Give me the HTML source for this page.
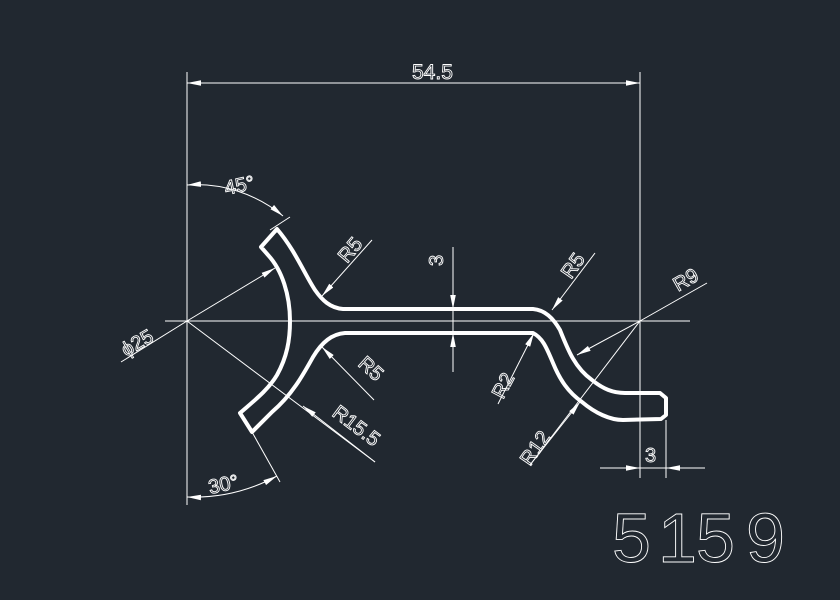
<!DOCTYPE html>
<html><head><meta charset="utf-8"><style>
html,body{margin:0;padding:0;background:#212830;}
svg{display:block}
text{font-family:"Liberation Sans",sans-serif;fill:none;stroke:#fff;stroke-width:0.9}
</style></head><body>
<svg width="840" height="600" viewBox="0 0 840 600" xmlns="http://www.w3.org/2000/svg">
<rect width="840" height="600" fill="#212830"/>
<defs>
<marker id="a" viewBox="0 0 10 4" refX="10" refY="2" markerWidth="14" markerHeight="5.6" markerUnits="userSpaceOnUse" orient="auto-start-reverse"><path d="M0,0 L10,2 L0,4 z" fill="#fff"/></marker>
</defs>
<g stroke="#fff" stroke-width="1" fill="none">
<!-- centerlines / extension -->
<line x1="187" y1="72" x2="187" y2="505"/>
<line x1="640" y1="72" x2="640" y2="478"/>
<line x1="165" y1="321" x2="690" y2="321"/>
<line x1="187" y1="83" x2="640" y2="83" marker-start="url(#a)" marker-end="url(#a)"/>
<!-- 45 deg -->
<path d="M187,185 A136,136 0 0 1 283,216" marker-start="url(#a)" marker-end="url(#a)"/>
<line x1="270" y1="230" x2="290" y2="217"/>
<!-- 30 deg -->
<path d="M187,497 A176,176 0 0 0 277,476" marker-start="url(#a)" marker-end="url(#a)"/>
<line x1="252" y1="432" x2="280" y2="482"/>
<!-- phi25 -->
<line x1="121" y1="362" x2="187" y2="321"/>
<line x1="187" y1="321" x2="275" y2="268" marker-end="url(#a)"/>
<!-- R15.5 -->
<line x1="187" y1="321" x2="375" y2="462"/>
<line x1="375" y1="462" x2="303" y2="406" marker-end="url(#a)"/>
<!-- R5 top -->
<line x1="372" y1="240" x2="322" y2="296" marker-end="url(#a)"/>
<!-- R5 bottom -->
<line x1="374" y1="400" x2="322" y2="347" marker-end="url(#a)"/>
<!-- 3 vertical -->
<line x1="453" y1="247" x2="453" y2="372"/>
<line x1="453" y1="285" x2="453" y2="309" marker-end="url(#a)"/>
<line x1="453" y1="357" x2="453" y2="333" marker-end="url(#a)"/>
<!-- R5 right -->
<line x1="595" y1="253" x2="552" y2="310" marker-end="url(#a)"/>
<!-- R9 -->
<line x1="707" y1="283" x2="640" y2="321"/>
<line x1="640" y1="321" x2="577" y2="355" marker-end="url(#a)"/>
<!-- R2 -->
<line x1="498" y1="404" x2="534" y2="333" marker-end="url(#a)"/>
<!-- R12 -->
<line x1="530" y1="465" x2="640" y2="321"/>
<line x1="530" y1="465" x2="580" y2="402" marker-end="url(#a)"/>
<!-- 3 horizontal -->
<line x1="666" y1="420" x2="666" y2="478"/>
<line x1="600" y1="468" x2="705" y2="468"/>
<line x1="615" y1="468" x2="640" y2="468" marker-end="url(#a)"/>
<line x1="691" y1="468" x2="666" y2="468" marker-end="url(#a)"/>
</g>
<!-- profile -->
<path stroke="#fff" stroke-width="4" fill="none" stroke-linejoin="round" d="
M277,229 C295,250 305,275 315,290 C322,300 330,308 343,309 L533,309
C545,310 553,318 560,330 C568,350 575,368 592,380 C603,389 613,393 625,393 L660,393 L666,398 L666,415 L661,419 L623,420
C610,420 595,413 582,402 C568,392 560,380 553,363 C547,349 543,338 533,333 L345,333
C332,334 322,342 313,357 C303,375 292,395 272,412 L252,432 L240,413
C255,400 268,390 277,375 C287,357 290,340 290,321 C290,295 282,270 268,255 L261,247 Z"/>
<!-- labels -->
<g font-size="20">
<text x="412" y="79" font-size="21">54.5</text>
<text transform="translate(226,195) rotate(-12)">45°</text>
<text transform="translate(210,494) rotate(-12)">30°</text>
<text transform="translate(126,357) rotate(-30)">ϕ25</text>
<text transform="translate(347,264) rotate(-50)">R5</text>
<text transform="translate(357,365) rotate(42)">R5</text>
<text transform="translate(331,415) rotate(37)">R15.5</text>
<text transform="translate(443,266) rotate(-90)">3</text>
<text transform="translate(571,280) rotate(-55)">R5</text>
<text transform="translate(678,292) rotate(-30)">R9</text>
<text transform="translate(503,400) rotate(-62)">R2</text>
<text transform="translate(530,467) rotate(-55)">R12</text>
<text x="645" y="462">3</text>
</g>
<g font-size="70" style="stroke-width:1.3">
<text x="612" y="562">5</text>
<text x="658" y="562">1</text>
<text x="696" y="562">5</text>
<text x="746" y="562">9</text>
</g>
</svg>
</body></html>
